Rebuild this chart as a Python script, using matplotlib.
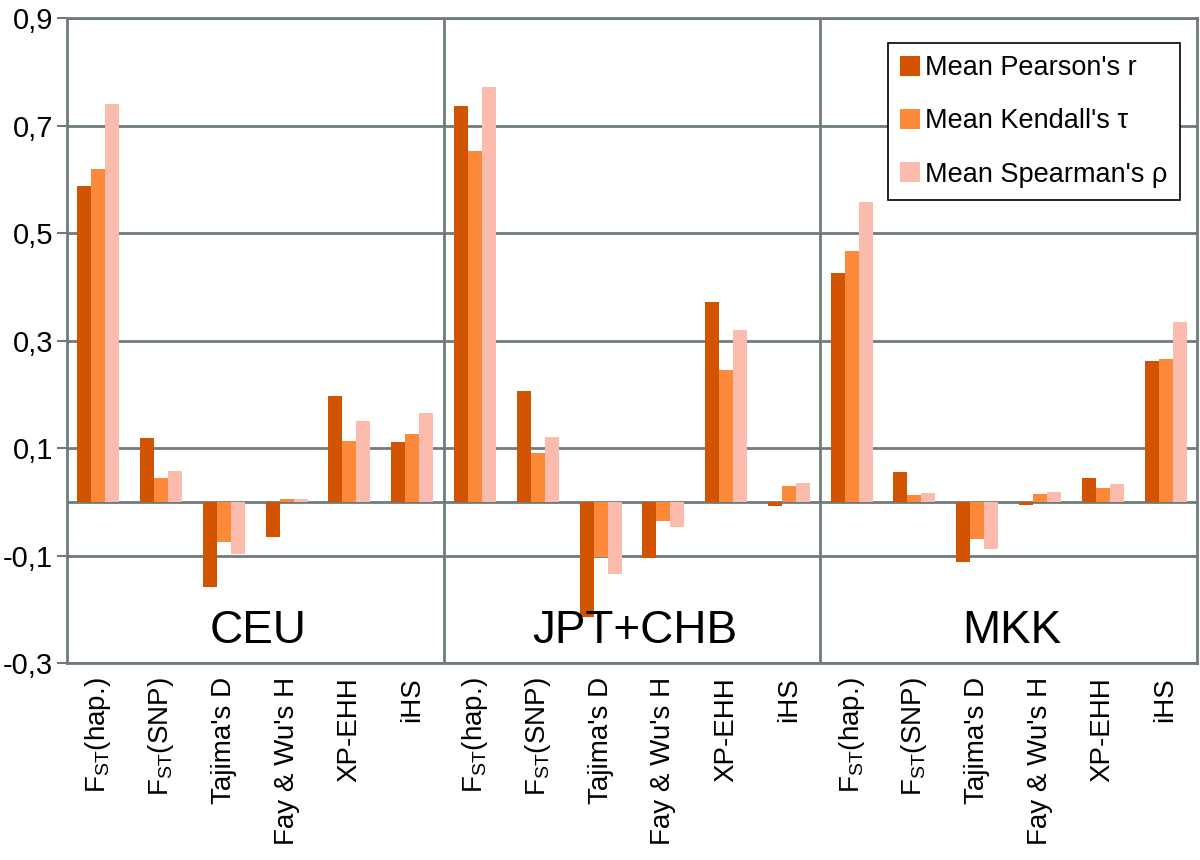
import matplotlib
matplotlib.use('Agg')
import matplotlib.pyplot as plt
import numpy as np

plt.rcParams['font.family'] = ['Liberation Sans', 'DejaVu Sans']
plt.rcParams['mathtext.fontset'] = 'custom'
plt.rcParams['mathtext.rm'] = 'Liberation Sans'
plt.rcParams['mathtext.it'] = 'Liberation Sans'

groups = ['CEU', 'JPT+CHB', 'MKK']
stats = [r'F$_{\mathrm{ST}}$(hap.)', r'F$_{\mathrm{ST}}$(SNP)', "Tajima's D",
         "Fay & Wu's H", 'XP-EHH', 'iHS']

# values per group, in order of stats
pearson = [0.588, 0.119, -0.158, -0.066, 0.197, 0.112,
           0.736, 0.207, -0.214, -0.105, 0.372, -0.007,
           0.425, 0.055, -0.112, -0.006, 0.044, 0.262]
kendall = [0.620, 0.044, -0.074, 0.005, 0.114, 0.127,
           0.652, 0.091, -0.103, -0.035, 0.245, 0.029,
           0.467, 0.012, -0.069, 0.015, 0.026, 0.265]
spearman = [0.740, 0.057, -0.097, 0.005, 0.150, 0.165,
            0.771, 0.120, -0.134, -0.046, 0.320, 0.035,
            0.558, 0.017, -0.087, 0.019, 0.033, 0.334]

series = [("Mean Pearson's r", pearson, '#d35400'),
          ("Mean Kendall's τ", kendall, '#fd8a3b'),
          ("Mean Spearman's ρ", spearman, '#fbbcad')]

grid_col = '#6f7b7b'

fig = plt.figure(figsize=(12, 8.6), dpi=100)
ax = fig.add_axes([0.0558, 0.229, 0.9417, 0.750])

x = np.arange(len(pearson))
w = 0.223
for i, (lab, vals, col) in enumerate(series):
    ax.bar(x + (i - 1) * w, vals, w, color=col, label=lab, zorder=3)

yt = [-0.3, -0.1, 0.1, 0.3, 0.5, 0.7, 0.9]
for y in yt + [0.0]:
    ax.axhline(y, color=grid_col, lw=2, zorder=2)
ns = len(stats)
for k in range(1, len(groups)):
    ax.axvline(k * ns - 0.5, color=grid_col, lw=2, zorder=2)

for k, g in enumerate(groups):
    ax.text(k * ns + (ns - 1) / 2 + 0.05, -0.24, g, ha='center', va='center',
            fontsize=33, zorder=4)

ax.set_xlim(-0.5, len(pearson) - 0.5)
ax.set_ylim(-0.3, 0.9)
ax.set_yticks(yt)
ax.set_yticklabels([('%.1f' % v).replace('.', ',') for v in yt], fontsize=21)
ax.set_xticks(x)
ax.set_xticklabels(stats * len(groups), rotation=90, fontsize=20, va='top')
ax.tick_params(axis='x', length=0, pad=10)
ax.tick_params(axis='y', length=7, width=1.5, color=grid_col, pad=3)
for s in ax.spines.values():
    s.set_color(grid_col)
    s.set_linewidth(2)

leg = ax.legend(loc='upper right', bbox_to_anchor=(0.985, 0.961), borderaxespad=0,
                fontsize=19.5, frameon=True, fancybox=False, edgecolor='black',
                framealpha=1, handlelength=0.75, handleheight=0.75,
                handletextpad=0.2, labelspacing=1.0, borderpad=0.45)
leg.get_frame().set_linewidth(1.2)
leg.set_zorder(5)

fig.savefig('out.png', dpi=100)
